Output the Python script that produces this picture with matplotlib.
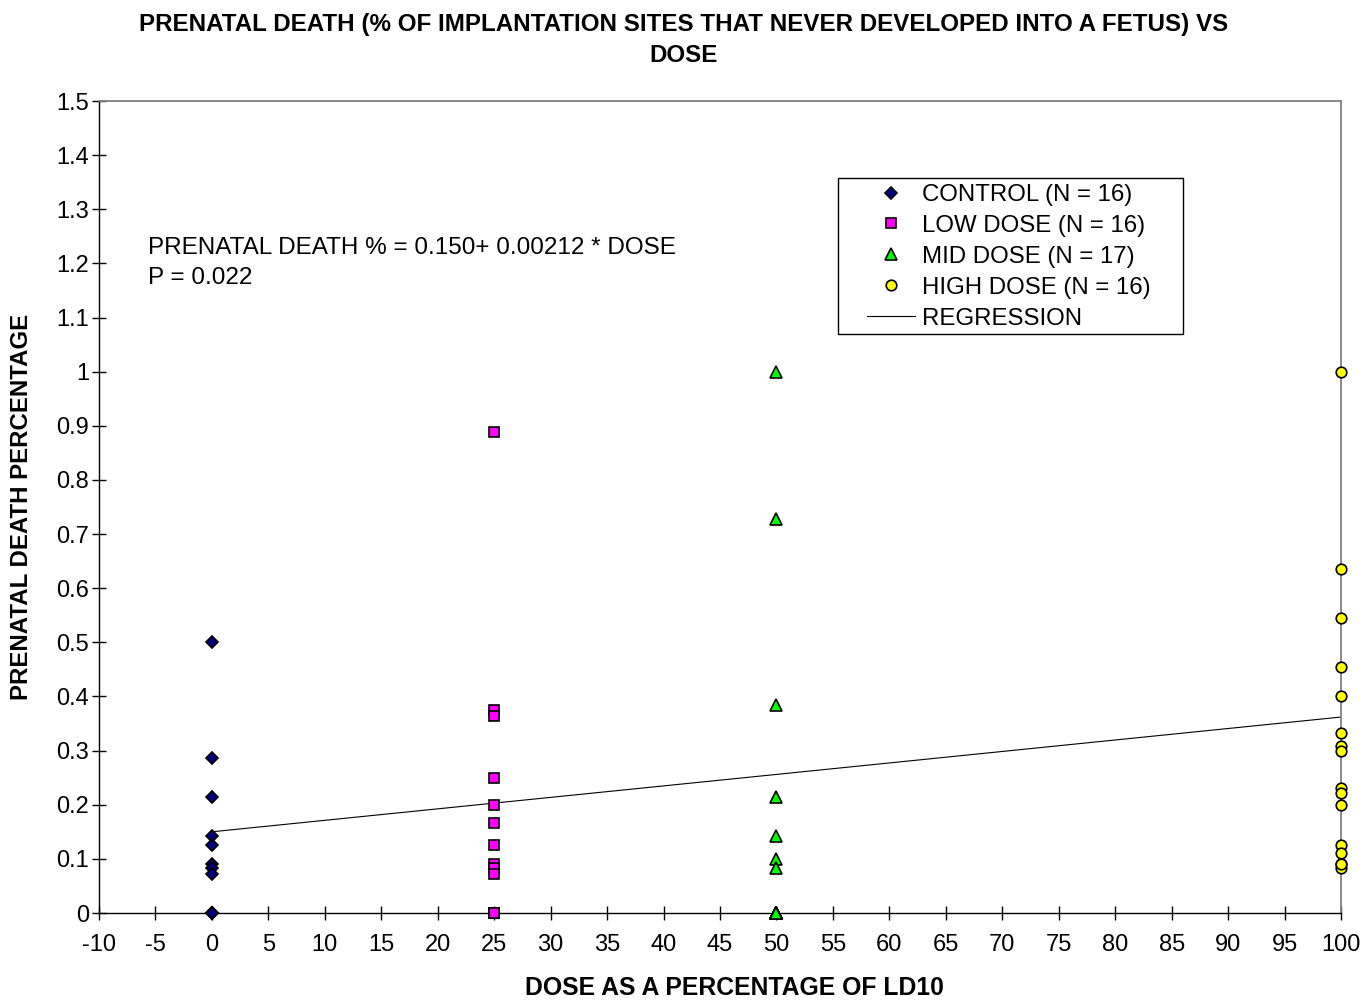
import matplotlib
matplotlib.use("Agg")
import matplotlib.pyplot as plt
from matplotlib.patches import Rectangle

plt.rcParams['font.family'] = ['Liberation Sans', 'DejaVu Sans']

control_dose = 0
control_vals = [0.5, 0.2857, 0.2143, 0.1429, 0.125, 0.0909, 0.0833, 0.0714,
                0, 0, 0, 0, 0, 0, 0, 0]
low_dose = 25
low_vals = [0.889, 0.375, 0.364, 0.25, 0.2, 0.1667, 0.125, 0.0909, 0.0833, 0.0714,
            0, 0, 0, 0, 0, 0]
mid_dose = 50
mid_vals = [1.0, 0.727, 0.385, 0.2143, 0.1429, 0.1, 0.0833,
            0, 0, 0, 0, 0, 0, 0, 0, 0, 0]
high_dose = 100
high_vals = [1.0, 0.636, 0.545, 0.455, 0.4, 0.333, 0.308, 0.3, 0.231, 0.222, 0.2,
             0.125, 0.111, 0.0909, 0.0833, 0.0909]

reg_intercept = 0.150
reg_slope = 0.00212
reg_x = [0, 100]

x_ticks = list(range(-10, 101, 5))
y_ticks = [0, 0.1, 0.2, 0.3, 0.4, 0.5, 0.6, 0.7, 0.8, 0.9, 1, 1.1, 1.2, 1.3, 1.4, 1.5]
y_tick_labels = ['0', '0.1', '0.2', '0.3', '0.4', '0.5', '0.6', '0.7', '0.8', '0.9',
                 '1', '1.1', '1.2', '1.3', '1.4', '1.5']

W, H = 1368, 1002
fig = plt.figure(figsize=(W/100, H/100), dpi=100)
ax = fig.add_axes([99/W, 1-913/H, (1341-99)/W, (913-101)/H])

FS = 17
common = dict(linestyle='none', markeredgecolor='black', markeredgewidth=1.2,
              zorder=3, clip_on=False)
ax.plot([control_dose]*len(control_vals), control_vals, marker='D', markersize=6.3,
        markerfacecolor='#000080', label='CONTROL (N = 16)', **common)
ax.plot([low_dose]*len(low_vals), low_vals, marker='s', markersize=7.6,
        markerfacecolor='#FF00FF', label='LOW DOSE (N = 16)', **common)
ax.plot([mid_dose]*len(mid_vals), mid_vals, marker='^', markersize=8.2,
        markerfacecolor='#00FF00', label='MID DOSE (N = 17)', **common)
ax.plot([high_dose]*len(high_vals), high_vals, marker='o', markersize=7.6,
        markerfacecolor='#FFFF00', label='HIGH DOSE (N = 16)', **common)
reg_y = [reg_intercept + reg_slope * x for x in reg_x]
ax.plot(reg_x, reg_y, color='black', linewidth=0.8, label='REGRESSION', zorder=2)

ax.set_xlim(-10, 100)
ax.set_ylim(0, 1.5)
ax.set_xticks(x_ticks)
ax.set_xticklabels([str(t) for t in x_ticks], fontsize=FS)
ax.set_yticks(y_ticks)
ax.set_yticklabels(y_tick_labels, fontsize=FS)
ax.tick_params(direction='inout', length=10.5, width=1, colors='black')
ax.tick_params(axis='y', pad=2)
ax.tick_params(axis='x', pad=10)

for side in ['top', 'right']:
    ax.spines[side].set_color('#808080')
    ax.spines[side].set_linewidth(1.3)
for side in ['left', 'bottom']:
    ax.spines[side].set_color('black')
    ax.spines[side].set_linewidth(1.0)

fig.text(734/W, 1-988/H, 'DOSE AS A PERCENTAGE OF LD10', ha='center', va='center',
         fontsize=17.8, fontweight='bold')
fig.text(22/W, 1-507/H, 'PRENATAL DEATH PERCENTAGE', ha='center', va='center',
         rotation=90, fontsize=17.3, fontweight='bold')

fig.text(684/W, 1-25/H, 'PRENATAL DEATH (% OF IMPLANTATION SITES THAT NEVER DEVELOPED INTO A FETUS) VS',
         ha='center', va='center', fontsize=17.4, fontweight='bold')
fig.text(684/W, 1-55/H, 'DOSE', ha='center', va='center', fontsize=17.4, fontweight='bold')

fig.text(148/W, 1-248/H, 'PRENATAL DEATH % = 0.150+ 0.00212 * DOSE',
         ha='left', va='center', fontsize=17.5)
fig.text(148/W, 1-278/H, 'P = 0.022', ha='left', va='center', fontsize=17.5)

leg = ax.legend(loc='upper left', bbox_to_anchor=((867-99)/1242, (913-184)/812),
                fontsize=17.3, frameon=False, handlelength=2.0,
                handletextpad=0.3, borderpad=0.0, borderaxespad=0.0, labelspacing=0.37)
fig.patches.append(Rectangle((838/W, 1-334/H), (1183-838)/W, (334-178)/H,
                             transform=fig.transFigure, fill=False,
                             edgecolor='black', linewidth=1.0))

fig.savefig('out.png', dpi=100)
